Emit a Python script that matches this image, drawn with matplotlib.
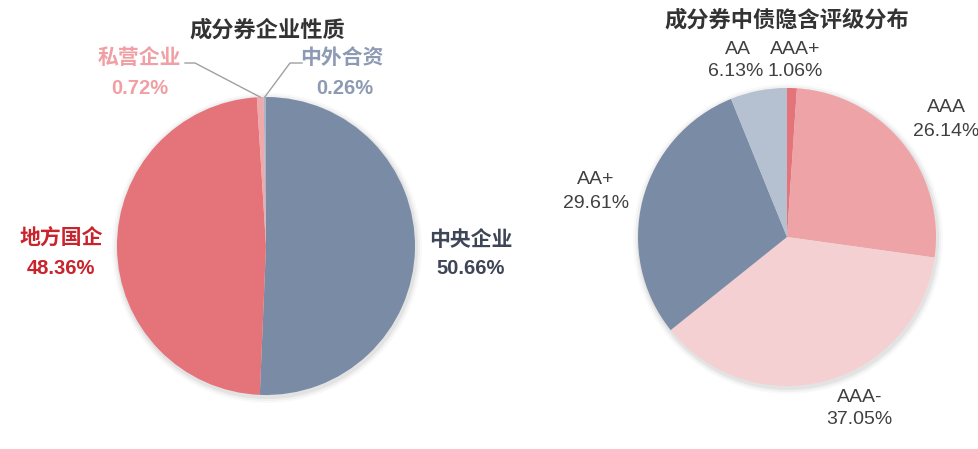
import numpy as np
import matplotlib
matplotlib.use("Agg")
import matplotlib.pyplot as plt
from matplotlib.patches import Circle

# ---- data ----
left_title = "成分券企业性质"
left_labels = ["中央企业", "地方国企", "私营企业", "中外合资"]
left_values = [50.66, 48.36, 0.72, 0.26]

right_title = "成分券中债隐含评级分布"
right_labels = ["AAA+", "AAA", "AAA-", "AA+", "AA"]
right_values = [1.06, 26.14, 37.05, 29.61, 6.13]

# ---- styles ----
W, H = 979, 449
left_colors = ["#7A8BA5", "#E5737A", "#F0A8AB", "#A9B4C6"]
left_text_colors = ["#3D4556", "#C9232C", "#F0A0A4", "#8D9AB3"]
right_colors = ["#E5737A", "#EEA3A6", "#F5D0D3", "#7A8BA5", "#B5C0D0"]

CJK = ["Noto Sans CJK SC", "DejaVu Sans"]
LAT = ["Liberation Sans", "DejaVu Sans"]

fig = plt.figure(figsize=(W / 100, H / 100), dpi=100)
ax = fig.add_axes([0, 0, 1, 1])


def Y(py):
    return H - py


def draw_shadow(cx, cy, r):
    for dr, a in [(6, 0.025), (4, 0.035), (2, 0.05)]:
        ax.add_patch(Circle((cx + 1, Y(cy) - 2), r + dr, color="#000000",
                            alpha=a, lw=0, zorder=0))


# left pie
lcx, lcy, lr = 266, 246, 149
draw_shadow(lcx, lcy, lr)
ax.pie(left_values, colors=left_colors, startangle=90, counterclock=False,
       center=(lcx, Y(lcy)), radius=lr, wedgeprops=dict(linewidth=0),
       frame=False)

# right pie
rcx, rcy, rr = 787, 237, 149
draw_shadow(rcx, rcy, rr)
ax.pie(right_values, colors=right_colors, startangle=90, counterclock=False,
       center=(rcx, Y(rcy)), radius=rr, wedgeprops=dict(linewidth=0),
       frame=False)

ax.set_aspect("auto")
ax.set_xlim(0, W)
ax.set_ylim(0, H)
ax.axis("off")

# titles
ax.text(267, Y(30), left_title, ha="center", va="center", fontsize=16,
        fontweight="bold", color="#333333", family=CJK)
ax.text(787, Y(20), right_title, ha="center", va="center", fontsize=16,
        fontweight="bold", color="#333333", family=CJK)

# left labels (name pos, pct pos)
left_pos = [((471, 240), (471, 269)),
            ((61, 238), (61, 268)),
            ((139, 57), (140, 88)),
            ((342, 57), (345, 88))]
for lab, val, col, (p1, p2) in zip(left_labels, left_values, left_text_colors, left_pos):
    ax.text(p1[0], Y(p1[1]), lab, ha="center", va="center", fontsize=15,
            fontweight="bold", color=col, family=CJK)
    ax.text(p2[0], Y(p2[1]), f"{val:.2f}%", ha="center", va="center", fontsize=14.5,
            fontweight="bold", color=col, family=LAT)

# leader lines for small slices
cum = np.cumsum([0] + left_values)
total = sum(left_values)
knees = {2: [(195, 63), (185, 63)], 3: [(290, 63), (302, 63)]}
for i, pts in knees.items():
    mid = (cum[i] + cum[i + 1]) / 2 / total
    ang = np.deg2rad(90 - 360 * mid)
    ex = lcx + lr * np.cos(ang)
    ey = Y(lcy) + lr * np.sin(ang)
    xs = [ex] + [p[0] for p in pts]
    ys = [ey] + [Y(p[1]) for p in pts]
    ax.plot(xs, ys, color="#A0A0A0", lw=1.0, zorder=3)

# right labels
right_pos = [((795, 49), (795, 71)),
             ((946, 108), (946, 131)),
             ((860, 397), (859, 420)),
             ((596, 180), (596, 203)),
             ((738, 49), (736, 71))]
for lab, val, (p1, p2) in zip(right_labels, right_values, right_pos):
    ax.text(p1[0], Y(p1[1]), lab, ha="center", va="center", fontsize=14,
            color="#404040", family=LAT)
    ax.text(p2[0], Y(p2[1]), f"{val:.2f}%", ha="center", va="center", fontsize=14,
            color="#404040", family=LAT)

fig.savefig("out.png", dpi=100)
